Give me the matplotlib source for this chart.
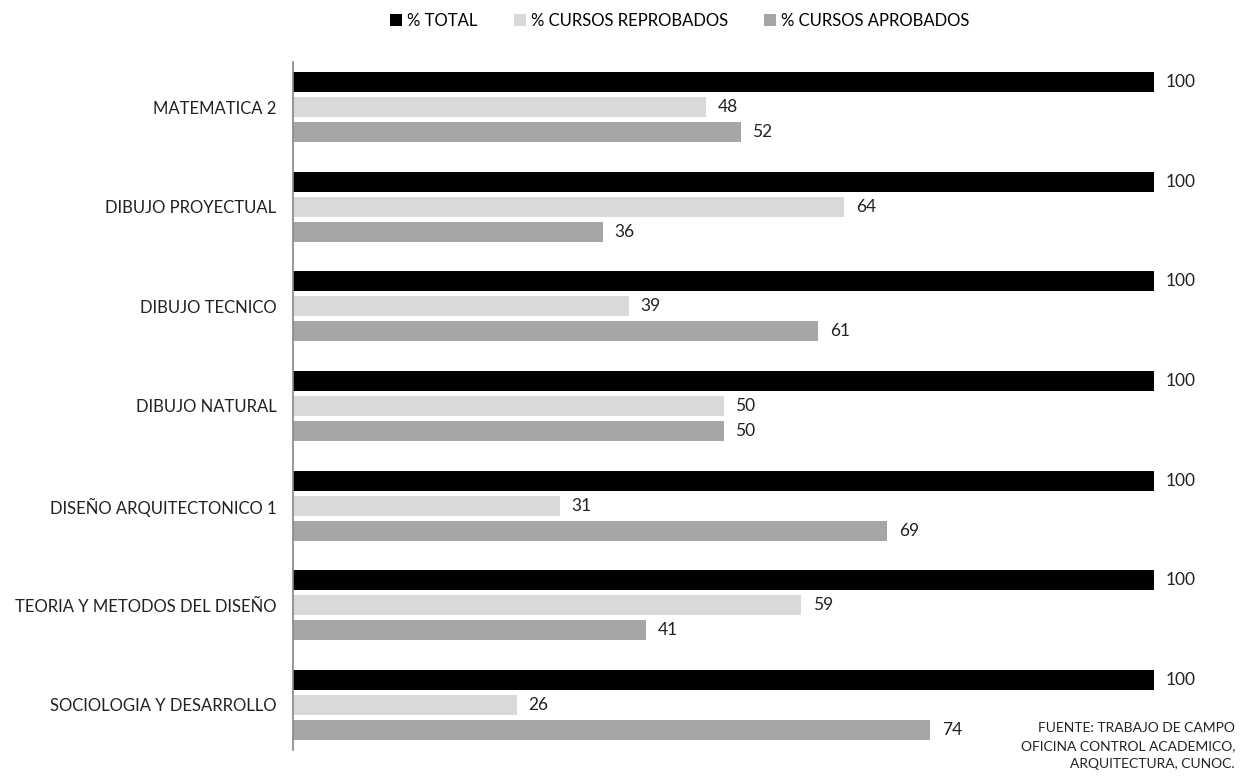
import matplotlib.pyplot as plt
import numpy as np

plt.rcParams['font.family'] = ['Lato', 'DejaVu Sans']

cursos = ["MATEMATICA 2", "DIBUJO PROYECTUAL", "DIBUJO TECNICO", "DIBUJO NATURAL",
          "DISEÑO ARQUITECTONICO 1", "TEORIA Y METODOS DEL DISEÑO", "SOCIOLOGIA Y DESARROLLO"]
total = [100, 100, 100, 100, 100, 100, 100]
reprobados = [48, 64, 39, 50, 31, 59, 26]
aprobados = [52, 36, 61, 50, 69, 41, 74]

series = [("% TOTAL", total, "#000000"),
          ("% CURSOS REPROBADOS", reprobados, "#d9d9d9"),
          ("% CURSOS APROBADOS", aprobados, "#a6a6a6")]

fig = plt.figure(figsize=(12.45, 7.76), dpi=100)
ax = fig.add_axes([293 / 1245, 1 - 750 / 776, (1154 - 293) / 1245, (750 - 62) / 776])

centros = np.arange(len(cursos)) * 3.98
for k, (nombre, valores, color) in enumerate(series):
    y = centros + (k - 1)
    ax.barh(y, valores, height=0.8, color=color, label=nombre)
    for yy, v in zip(y, valores):
        ax.text(v + 1.35, yy, str(v), va="center", ha="left", fontsize=12.5, color="#222222")

ax.set_xlim(0, 100)
ax.set_ylim(centros[-1] + 1.8, -1.8)
ax.set_yticks(centros)
ax.set_yticklabels(cursos, fontsize=12, color="#222222")
ax.tick_params(axis="y", length=0, pad=12)
ax.set_xticks([])
for s in ["top", "right", "bottom"]:
    ax.spines[s].set_visible(False)
ax.spines["left"].set_color("#868686")
ax.spines["left"].set_linewidth(1.2)

fig.legend(loc="upper center", bbox_to_anchor=(0.546, 1.003), ncol=3, frameon=False,
           fontsize=12, handlelength=0.7, handleheight=0.7, handletextpad=0.3,
           columnspacing=2.2)

fig.text(1235 / 1245, 1 - 722 / 776,
         "FUENTE: TRABAJO DE CAMPO\nOFICINA CONTROL ACADEMICO,\nARQUITECTURA, CUNOC.",
         ha="right", va="top", fontsize=10, color="#222222", linespacing=1.6)

fig.savefig("out.png", dpi=100)
